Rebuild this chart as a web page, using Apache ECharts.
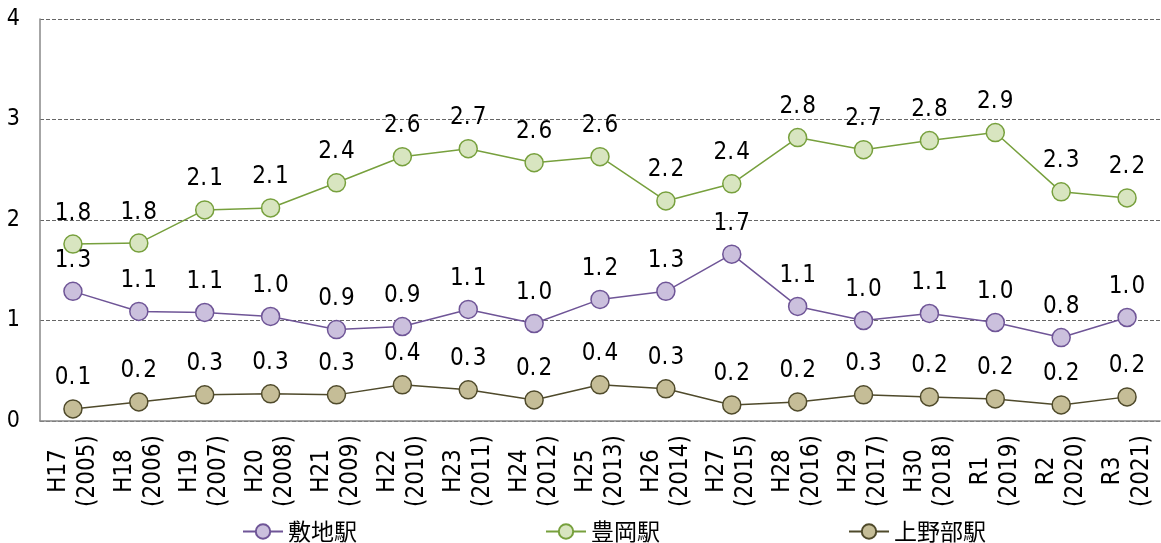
<!DOCTYPE html>
<html><head><meta charset="utf-8">
<script src="https://cdn.jsdelivr.net/npm/echarts@6/dist/echarts.min.js"></script>
<style>html,body{margin:0;padding:0;background:#fff}#c{width:1161px;height:543px}</style>
</head><body><div id="c"></div>
<script>
const categories = ['H17\n(2005)','H18\n(2006)','H19\n(2007)','H20\n(2008)','H21\n(2009)','H22\n(2010)','H23\n(2011)','H24\n(2012)','H25\n(2013)','H26\n(2014)','H27\n(2015)','H28\n(2016)','H29\n(2017)','H30\n(2018)','R1\n(2019)','R2\n(2020)','R3\n(2021)'];
const shikiji = [1.29,1.09,1.08,1.04,0.91,0.94,1.11,0.97,1.21,1.29,1.66,1.14,1.0,1.07,0.98,0.83,1.03];
const toyooka = [1.76,1.77,2.10,2.12,2.37,2.63,2.71,2.57,2.63,2.19,2.36,2.82,2.70,2.79,2.87,2.28,2.22];
const kamionobe = [0.12,0.19,0.26,0.27,0.26,0.36,0.31,0.21,0.36,0.32,0.16,0.19,0.26,0.24,0.22,0.16,0.24];
const yTicks = [0,1,2,3,4];

const narrow = "'Liberation Sans Narrow','DejaVu Sans Condensed',sans-serif";
function mk(name, data, line, fill){
  return {name, type:'line', data, symbol:'circle', symbolSize:18,
    lineStyle:{color:line, width:1.5},
    itemStyle:{color:fill, borderColor:line, borderWidth:1.5},
    label:{show:true, position:'top', distance:9, color:'#000', fontSize:24, fontFamily:narrow,
      formatter:p=>p.value.toFixed(1).replace('.', '.\u200A')},
    emphasis:{disabled:true}, animation:false};
}
const chart = echarts.init(document.getElementById('c'));
chart.setOption({
  animation:false,
  grid:{left:40, right:1, top:19, bottom:122},
  legend:{left:237, top:515, itemGap:188, itemWidth:40, itemHeight:18,
    textStyle:{fontSize:23, fontFamily:"'Noto Sans CJK JP',sans-serif", color:'#000'},
    data:['敷地駅','豊岡駅','上野部駅']},
  xAxis:{type:'category', data:categories, boundaryGap:true,
    axisLine:{lineStyle:{color:'#888', width:1.5}},
    axisTick:{inside:true, length:6, lineStyle:{color:'#888', width:1.5}},
    axisLabel:{rotate:90, align:'center', verticalAlign:'middle', margin:50, interval:0,
      fontSize:24, lineHeight:29, color:'#000', fontFamily:narrow}},
  yAxis:{type:'value', min:yTicks[0], max:yTicks[yTicks.length-1], interval:1,
    axisLine:{show:true, lineStyle:{color:'#888', width:1.5}},
    axisTick:{show:false},
    axisLabel:{margin:20, fontSize:23, color:'#000', fontFamily:narrow},
    splitLine:{lineStyle:{type:[4,2], color:'#666', width:1}}},
  series:[
    mk('敷地駅', shikiji, '#6f5597', '#cbc0dd'),
    mk('豊岡駅', toyooka, '#77a03d', '#d8e5c0'),
    mk('上野部駅', kamionobe, '#4f4a2b', '#c5bd97')
  ]
});
</script></body></html>
